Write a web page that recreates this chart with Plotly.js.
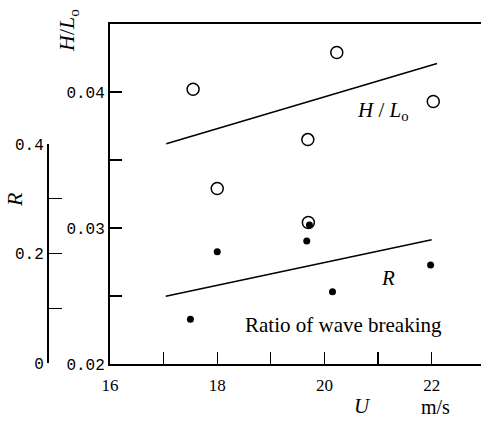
<!DOCTYPE html>
<html>
<head>
<meta charset="utf-8">
<script src="https://cdn.plot.ly/plotly-3.0.1.min.js"></script>
<style>html,body{margin:0;padding:0;background:#fff;}#chart{width:482px;height:426px;}</style>
</head>
<body>
<div id="chart"></div>
<script>
// Wind speed U (m/s) and wave steepness H/Lo (open circles)
var hlU = [17.55, 18.0, 19.69, 19.7, 20.23, 22.03];
var hlVal = [0.0402, 0.0329, 0.0365, 0.0304, 0.0429, 0.0393];
// Ratio of wave breaking R (filled dots)
var rU = [17.5, 18.0, 19.67, 19.72, 20.15, 21.98];
var rVal = [0.080, 0.203, 0.223, 0.252, 0.130, 0.179];
// Fitted lines
var hlLineU = [17.05, 22.1];
var hlLineVal = [0.0362, 0.0421];
var rLineU = [17.04, 22.0];
var rLineVal = [0.122, 0.225];
// Tick labels (major) and unlabelled minor ticks
var xTickVals = [16, 18, 20, 22];
var xTickText = ['16', '18', '20', '22'];
var xMinorVals = [17, 19, 21];
var hlTickVals = [0.02, 0.03, 0.04];
var hlTickText = ['0.02', '0.03', '0.04'];
var hlMinorVals = [0.025, 0.035];
var rTickVals = [0, 0.2, 0.4];
var rTickText = ['0', '0.2', '0.4'];
var rMinorVals = [0.1, 0.3];

var serif = 'Liberation Serif';
var mono = 'Liberation Mono';

var traces = [
  {x: hlLineU, y: hlLineVal, xaxis: 'x', yaxis: 'y', mode: 'lines', line: {color: '#000', width: 1.5}, hoverinfo: 'skip'},
  {x: rLineU, y: rLineVal, xaxis: 'x', yaxis: 'y2', mode: 'lines', line: {color: '#000', width: 1.5}, hoverinfo: 'skip'},
  {x: hlU, y: hlVal, xaxis: 'x', yaxis: 'y', mode: 'markers', marker: {symbol: 'circle-open', size: 12, color: '#000', line: {width: 1.5, color: '#000'}}},
  {x: rU, y: rVal, xaxis: 'x', yaxis: 'y2', mode: 'markers', marker: {symbol: 'circle', size: 7, color: '#000'}}
];

function ann(xref, yref, x, y, text, size, angle) {
  return {xref: xref, yref: yref, x: x, y: y, text: text, textangle: angle || 0,
    xanchor: 'center', yanchor: 'middle', showarrow: false,
    font: {family: serif, size: size, color: '#000'}};
}

var layout = {
  width: 482, height: 426,
  margin: {l: 40, r: 1, t: 24, b: 62},
  paper_bgcolor: '#fff', plot_bgcolor: 'rgba(0,0,0,0)',
  showlegend: false,
  xaxis: {
    domain: [70/441, 1], range: [16, 22.92],
    tickmode: 'array', tickvals: xTickVals, ticktext: xTickText,
    ticks: 'inside', ticklen: 12, tickwidth: 1.2, tickcolor: '#000',
    minor: {tickmode: 'array', tickvals: xMinorVals, ticks: 'inside', ticklen: 12, tickwidth: 1.2, tickcolor: '#000', showgrid: false},
    ticklabelstandoff: 5,
    showline: true, linecolor: '#000', linewidth: 2, mirror: true,
    showgrid: false, zeroline: false, anchor: 'y',
    tickfont: {family: serif, size: 17, color: '#000'}
  },
  yaxis: {
    domain: [0, 1], range: [0.02, 0.045],
    tickmode: 'array', tickvals: hlTickVals, ticktext: hlTickText,
    ticks: 'inside', ticklen: 12, tickwidth: 1.2, tickcolor: '#000',
    minor: {tickmode: 'array', tickvals: hlMinorVals, ticks: 'inside', ticklen: 12, tickwidth: 1.2, tickcolor: '#000', showgrid: false},
    showline: true, linecolor: '#000', linewidth: 2,
    showgrid: false, zeroline: false, anchor: 'x',
    tickfont: {family: mono, size: 16, color: '#000'}
  },
  yaxis2: {
    domain: [1/340, 220/340], range: [0, 0.4],
    anchor: 'free', position: 7/441, side: 'left',
    tickmode: 'array', tickvals: rTickVals, ticktext: rTickText,
    ticks: 'inside', ticklen: 13, tickwidth: 1.2, tickcolor: '#000',
    minor: {tickmode: 'array', tickvals: rMinorVals, ticks: 'inside', ticklen: 13, tickwidth: 1.2, tickcolor: '#000', showgrid: false},
    showline: true, linecolor: '#000', linewidth: 1.5,
    showgrid: false, zeroline: false,
    tickfont: {family: mono, size: 16, color: '#000'}
  },
  annotations: [
    ann('paper', 'paper', 28/441, 333/340, '<i>H</i>/<i>L</i><sub>o</sub>', 22, -90),
    ann('paper', 'paper', -25/441, 164/340, '<i>R</i>', 22, -90),
    ann('paper', 'paper', 322/441, -42/340, '<i>U</i>', 21),
    ann('paper', 'paper', 395/441, -43/340, 'm/s', 20),
    ann('x', 'y', 21.1, 0.0386, '<i>H</i> / <i>L</i><sub>o</sub>', 21),
    ann('x', 'y', 21.18, 0.0263, '<i>R</i>', 21),
    ann('x', 'y', 20.36, 0.0229, 'Ratio of wave breaking', 21)
  ]
};

Plotly.newPlot('chart', traces, layout, {staticPlot: true, displayModeBar: false});
</script>
</body>
</html>
